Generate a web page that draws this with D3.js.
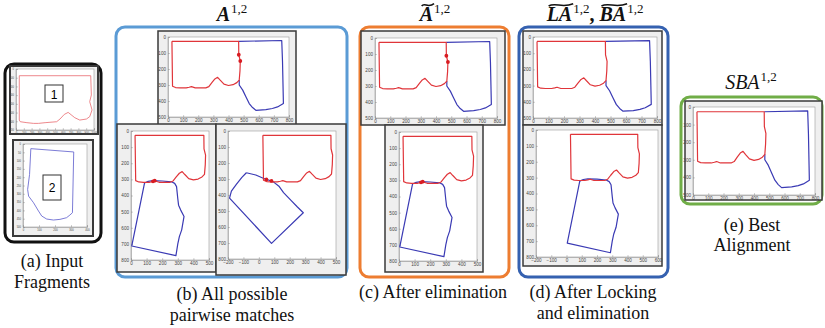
<!DOCTYPE html>
<html><head><meta charset="utf-8">
<script src="https://cdn.jsdelivr.net/npm/d3@7"></script>
<style>body{margin:0;background:#fff}svg{display:block}</style>
</head><body>
<svg id="c" width="825" height="328"></svg>
<script>
// ---------------- data ----------------
// Fragment 1 (red) in aligned coordinates
const fragment1 = [[26,27],[467,27],[468,111],[478,150],[476,210],[471,269],[455,285],[430,298],[400,303],[370,295],[345,270],[328,252],[310,262],[290,285],[270,310],[250,318],[180,318],[155,310],[140,314],[120,318],[80,318],[50,316],[30,308],[26,27]];
// Fragment 2 (blue) for the three candidate matches
const fragment2Side = [[467,27],[752,22],[757,150],[763,416],[724,437],[690,447],[647,454],[581,458],[559,441],[537,416],[515,374],[494,332],[471,300],[471,269]];
const fragment2Below = [[87,322],[110,312],[140,308],[200,310],[260,315],[280,325],[292,345],[300,420],[305,460],[318,489],[340,530],[325,613],[310,655],[300,700],[288,773],[5,713],[87,322]];
const fragment2Rotated = [[-81,261],[-20,275],[40,300],[90,315],[130,345],[160,385],[210,435],[250,475],[288,511],[82,702],[-190,420],[-178,376],[-146,334],[-110,290],[-81,261]];
// Input fragments
const input1 = [[42,77],[958,77],[966,298],[945,375],[975,470],[945,547],[903,574],[818,586],[754,559],[669,498],[619,521],[564,574],[521,605],[373,616],[288,624],[225,624],[140,616],[55,605],[42,586],[42,77]];
const input2 = [[49,28],[317,48],[309,414],[293,428],[272,444],[231,454],[190,458],[148,452],[117,434],[97,404],[66,354],[35,314],[29,274],[41,184],[49,28]];
// Match points
const dotsSide = [[468,111],[478,150]];
const dotsBelow = [[141,312],[152,308]];
const dotsRotated = [[49,303],[82,312]];
// Tick labels
const ticksX800 = [0,100,200,300,400,500,600,700,800];
const ticksY500 = [0,100,200,300,400,500];
const ticksX500 = [0,100,200,300,400,500];
const ticksY800 = [0,100,200,300,400,500,600,700,800];
const ticksXm500 = [-200,-100,0,100,200,300,400,500];
const ticksXm600 = [-200,-100,0,100,200,300,400,500,600];
const ticksX1000 = [0,100,200,300,400,500,600,700,800,900,1000];
const ticksY700 = [0,100,200,300,400,500,600,700];
const ticksX400 = [0,100,200,300,400];
const ticksY500s = [0,50,100,150,200,250,300,350,400,450,500];

const RED = "#e0353a", BLUE = "#3a3ab4";
const svg = d3.select("#c");

// ---------------- frames ----------------
const frames = [
  {x:5,y:64,w:96,h:178,c:"#111"},
  {x:116,y:27,w:231,h:250,c:"#5b9bd5"},
  {x:360,y:27,w:149,h:250,c:"#ed7d31"},
  {x:519,y:27,w:149,h:250,c:"#3561b0"},
  {x:681,y:97,w:141,h:107,c:"#70ad47"}
];
svg.selectAll("rect.frame").data(frames).join("rect").attr("class","frame")
  .attr("x",d=>d.x).attr("y",d=>d.y).attr("width",d=>d.w).attr("height",d=>d.h)
  .attr("rx",9).attr("fill","none").attr("stroke",d=>d.c).attr("stroke-width",3);

// ---------------- figures ----------------
function figure(cfg){
  const g = svg.append("g");
  const [b0,b1,b2,b3] = cfg.box, [a0,a1,a2,a3] = cfg.axes;
  g.append("rect").attr("x",b0).attr("y",b1).attr("width",b2-b0).attr("height",b3-b1)
    .attr("fill","#efefef").attr("stroke","#3a3a3a").attr("stroke-width",cfg.bw||1.5);
  g.append("rect").attr("x",a0).attr("y",a1).attr("width",a2-a0).attr("height",a3-a1)
    .attr("fill","#fff").attr("stroke","#9a9a9a").attr("stroke-width",0.6);
  const x = d3.scaleLinear().domain(cfg.xd).range([a0,a2]);
  const y = d3.scaleLinear().domain(cfg.yd).range([a1,a3]);
  const fs = cfg.fs||4.6;
  const ax = g.append("g").attr("transform",`translate(0,${a3})`)
    .call(d3.axisBottom(x).tickValues(cfg.xt).tickSize(-1.8).tickPadding(2.2).tickFormat(d3.format("d")));
  const ay = g.append("g").attr("transform",`translate(${a0},0)`)
    .call(d3.axisLeft(y).tickValues(cfg.yt).tickSize(-1.8).tickPadding(2).tickFormat(d3.format("d")));
  [ax,ay].forEach(a=>{
    a.select(".domain").attr("stroke","#9a9a9a").attr("stroke-width",0.6);
    a.selectAll(".tick line").attr("stroke","#888").attr("stroke-width",0.5);
    a.selectAll(".tick text").attr("font-size",fs).attr("font-family","Liberation Sans, Arial, sans-serif").attr("fill","#444");
  });
  const line = d3.line().x(d=>x(d[0])).y(d=>y(d[1]));
  (cfg.series||[]).forEach(s=>{
    g.append("path").attr("d",line(s.data)).attr("fill","none")
      .attr("stroke",s.color).attr("stroke-width",s.w||1.2).attr("stroke-linejoin","round");
  });
  (cfg.dots||[]).forEach(p=>{
    g.append("circle").attr("cx",x(p[0])).attr("cy",y(p[1])).attr("r",1.9).attr("fill","#d81c22");
  });
  return {g,x,y};
}

const pairSide = [{data:fragment2Side,color:BLUE},{data:fragment1,color:RED}];
const pairBelow = [{data:fragment2Below,color:BLUE},{data:fragment1,color:RED}];
const pairRot = [{data:fragment2Rotated,color:BLUE},{data:fragment1,color:RED}];

// (a) input fragments
const fa1 = figure({box:[10,66,98,134],axes:[16,69,94,130],xd:[0,1000],yd:[0,700],xt:ticksX1000,yt:ticksY700,fs:2.6,bw:2,
  series:[{data:input1,color:"#e86a6e",w:0.8}]});
fa1.g.append("rect").attr("x",45).attr("y",85).attr("width",18).attr("height",17).attr("fill","#fff").attr("stroke","#333").attr("stroke-width",1);
fa1.g.append("text").attr("x",54).attr("y",98.5).attr("text-anchor","middle").attr("font-family","Liberation Sans, Arial, sans-serif").attr("font-size",12).text("1");
const fa2 = figure({box:[13,140,93,236],axes:[23,144,87,227],xd:[0,400],yd:[0,500],xt:ticksX400,yt:ticksY500s,fs:2.6,bw:2,
  series:[{data:input2,color:"#5a5acc",w:0.8}]});
fa2.g.append("rect").attr("x",43).attr("y",175).attr("width",18).attr("height",25).attr("fill","#fff").attr("stroke","#333").attr("stroke-width",1);
fa2.g.append("text").attr("x",52).attr("y",192).attr("text-anchor","middle").attr("font-family","Liberation Sans, Arial, sans-serif").attr("font-size",12).text("2");

// (b) all pairwise matches
figure({box:[158,31,296,125],axes:[168,37,289,117],xd:[0,800],yd:[0,500],xt:ticksX800,yt:ticksY500,series:pairSide,dots:dotsSide});
figure({box:[117,124,216,272],axes:[131,131,209,260],xd:[0,500],yd:[0,800],xt:ticksX500,yt:ticksY800,series:pairBelow,dots:dotsBelow});
figure({box:[216,124,346,275],axes:[228,131,336,259],xd:[-200,500],yd:[0,800],xt:ticksXm500,yt:ticksY800,series:pairRot,dots:dotsRotated});
// (c) after elimination
figure({box:[361,31,505,125],axes:[375,38,497,118],xd:[0,800],yd:[0,500],xt:ticksX800,yt:ticksY500,series:pairSide,dots:dotsSide});
figure({box:[385,125,483,272],axes:[399,132,477,261],xd:[0,500],yd:[0,800],xt:ticksX500,yt:ticksY800,series:pairBelow,dots:dotsBelow});
// (d) after locking and elimination
figure({box:[523,31,662,125],axes:[533,37,657,118],xd:[0,800],yd:[0,500],xt:ticksX800,yt:ticksY500,series:pairSide});
figure({box:[523,125,662,266],axes:[536,130,658,257],xd:[-200,600],yd:[0,800],xt:ticksXm600,yt:ticksY800,series:pairBelow});
// (e) best alignment
figure({box:[685,101,822,200],axes:[693,107,815,195],xd:[0,800],yd:[0,500],xt:ticksX800,yt:ticksY500,series:pairSide});

// ---------------- titles ----------------
function title(cx, base, parts){
  const g = svg.append("g");
  let xpos = 0; const tildes = [];
  parts.forEach(p=>{
    const t = g.append("text").attr("x",xpos).attr("y",p.sup?base-8:base)
      .attr("font-family","Liberation Serif, DejaVu Serif, serif")
      .attr("font-size",p.sup?13:20)
      .attr("font-weight",p.bold?"bold":"normal")
      .attr("font-style",p.italic?"italic":"normal")
      .attr("fill","#111").text(p.t);
    const w = t.node().getComputedTextLength();
    if(p.tilde) tildes.push([xpos, xpos+w]);
    xpos += w + (p.gap||0);
  });
  tildes.forEach(([a,b])=>{
    const yy = base-16.5;
    g.append("path").attr("d",`M${a+2},${yy+1.5} C${a+(b-a)*0.35},${yy-2.5} ${a+(b-a)*0.6},${yy+4} ${b+1},${yy-0.8}`)
      .attr("fill","none").attr("stroke","#111").attr("stroke-width",1.6);
  });
  g.attr("transform",`translate(${cx-xpos/2},0)`);
}
title(232,21,[{t:"A",bold:true,italic:true,gap:1},{t:"1,2",sup:true}]);
title(435,21,[{t:"A",bold:true,italic:true,tilde:true,gap:1},{t:"1,2",sup:true}]);
title(595,21,[{t:"LA",bold:true,italic:true,tilde:true,gap:1},{t:"1,2",sup:true},{t:",",bold:true,gap:5},{t:"BA",bold:true,italic:true,tilde:true,gap:1},{t:"1,2",sup:true}]);
title(751,89,[{t:"SBA",italic:true,gap:1},{t:"1,2",sup:true}]);

// ---------------- captions ----------------
const captions = [
  {x:52,y:267,t:"(a) Input"},{x:52,y:288,t:"Fragments"},
  {x:232,y:300,t:"(b) All possible"},{x:232,y:321,t:"pairwise matches"},
  {x:433,y:298,t:"(c) After elimination"},
  {x:593,y:298,t:"(d) After Locking"},{x:593,y:319,t:"and elimination"},
  {x:752,y:231,t:"(e) Best"},{x:752,y:251,t:"Alignment"}
];
svg.selectAll("text.cap").data(captions).join("text").attr("class","cap")
  .attr("x",d=>d.x).attr("y",d=>d.y).attr("text-anchor","middle")
  .attr("font-family","Liberation Serif, Times New Roman, serif").attr("font-size",18).attr("fill","#111")
  .text(d=>d.t);
</script>
</body></html>
